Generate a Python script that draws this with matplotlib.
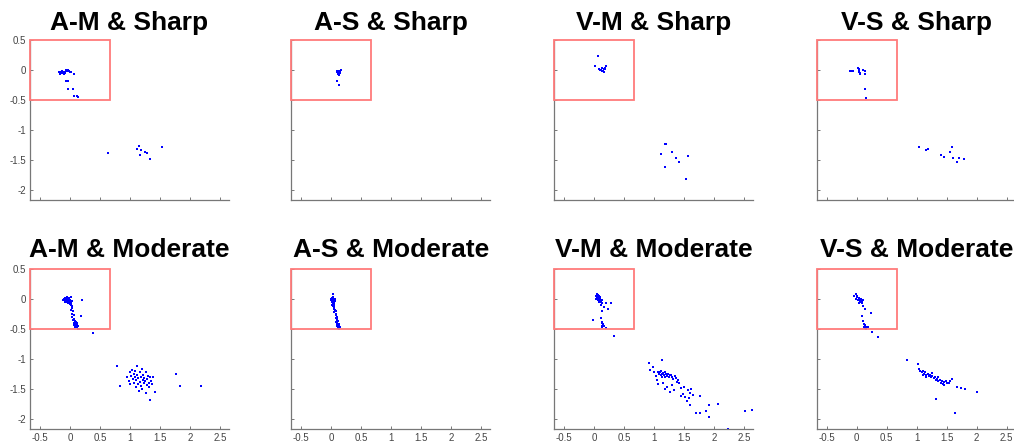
import numpy as np
import matplotlib
matplotlib.use("Agg")
import matplotlib.pyplot as plt
from matplotlib.patches import Rectangle

plt.rcParams['font.family'] = ['Liberation Sans', 'DejaVu Sans']
plt.rcParams['axes.unicode_minus'] = False

# point clouds (x, y), one per panel
am_sharp = np.array([
    (-0.18, -0.04), (-0.17, -0.06), (-0.16, -0.03), (-0.15, -0.05), (-0.14, -0.02),
    (-0.13, -0.04), (-0.12, -0.05), (-0.11, -0.03), (-0.10, -0.06), (-0.09, -0.04),
    (-0.08, -0.05), (-0.07, -0.02), (-0.06, 0.0), (-0.05, -0.01), (-0.04, 0.0),
    (-0.03, -0.01), (-0.02, -0.02), (0.0, -0.04), (0.02, -0.03), (0.06, -0.07),
    (-0.07, -0.18), (-0.03, -0.18), (-0.03, -0.32), (0.05, -0.32), (0.07, -0.44),
    (0.12, -0.43), (0.14, -0.45),
    (0.63, -1.38), (1.11, -1.32), (1.15, -1.26), (1.16, -1.42), (1.19, -1.34),
    (1.25, -1.36), (1.29, -1.39), (1.33, -1.48), (1.54, -1.28)])

as_sharp = np.array([
    (0.09, -0.02), (0.10, -0.04), (0.11, -0.06), (0.12, -0.03), (0.13, -0.01),
    (0.14, -0.05), (0.15, -0.02), (0.16, 0.0), (0.12, -0.08), (0.14, -0.04),
    (0.10, -0.18), (0.12, -0.25)])

vm_sharp = np.array([
    (0.06, 0.24), (0.02, 0.07), (0.08, 0.02), (0.10, 0.0), (0.13, 0.03),
    (0.15, -0.01), (0.18, 0.04), (0.20, 0.06), (0.17, -0.03), (0.14, -0.02),
    (0.16, 0.01), (0.19, 0.02), (0.12, 0.0),
    (1.18, -1.23), (1.20, -1.24), (1.12, -1.40), (1.30, -1.37), (1.37, -1.47),
    (1.41, -1.54), (1.56, -1.43), (1.19, -1.61), (1.54, -1.81)])

vs_sharp = np.array([
    (-0.12, -0.02), (-0.10, -0.02), (-0.09, -0.02), (-0.07, -0.01), (0.02, 0.03),
    (0.04, -0.02), (0.04, -0.04), (0.06, -0.05), (0.10, 0.0), (0.14, -0.01),
    (0.14, -0.07), (0.14, -0.32), (0.16, -0.46), (0.03, 0.01), (0.05, -0.06),
    (1.04, -1.28), (1.15, -1.34), (1.18, -1.31), (1.41, -1.41), (1.46, -1.45),
    (1.56, -1.36), (1.58, -1.28), (1.61, -1.46), (1.67, -1.53), (1.71, -1.46),
    (1.79, -1.48)])

am_moderate = np.array([
    (-0.10, 0.0), (-0.09, -0.02), (-0.08, 0.02), (-0.07, -0.01), (-0.06, 0.01),
    (-0.05, -0.03), (-0.04, 0.0), (-0.03, -0.02), (-0.02, 0.02), (-0.01, -0.04),
    (0.0, -0.01), (0.01, 0.04), (0.02, -0.05), (0.03, -0.03), (-0.08, -0.04),
    (-0.06, -0.05), (-0.04, -0.06), (-0.02, -0.07), (0.0, -0.08), (0.02, -0.10),
    (-0.11, -0.02), (-0.05, 0.03), (-0.03, 0.01), (0.01, -0.06), (0.03, -0.12),
    (0.04, -0.15), (0.02, -0.18), (0.05, -0.20), (0.03, -0.24), (0.06, -0.27),
    (0.04, -0.30), (0.07, -0.33), (0.05, -0.35), (0.08, -0.36), (0.10, -0.38),
    (0.06, -0.39), (0.09, -0.41), (0.11, -0.40), (0.07, -0.43), (0.10, -0.44),
    (0.12, -0.42), (0.08, -0.46), (0.13, -0.45), (0.11, -0.47), (0.20, -0.02),
    (0.19, -0.28), (0.15, -0.50), (0.39, -0.56), (0.14, -0.49),
    (0.79, -1.12), (0.84, -1.44), (0.95, -1.30), (0.98, -1.36), (1.00, -1.22),
    (1.02, -1.28), (1.03, -1.18), (1.05, -1.33), (1.06, -1.25), (1.07, -1.40),
    (1.08, -1.20), (1.09, -1.30), (1.10, -1.35), (1.12, -1.11), (1.12, -1.27),
    (1.13, -1.42), (1.14, -1.32), (1.15, -1.53), (1.16, -1.22), (1.17, -1.38),
    (1.18, -1.29), (1.19, -1.45), (1.20, -1.16), (1.21, -1.34), (1.22, -1.26),
    (1.23, -1.40), (1.24, -1.31), (1.25, -1.37), (1.26, -1.56), (1.27, -1.22),
    (1.28, -1.43), (1.29, -1.33), (1.30, -1.28), (1.31, -1.39), (1.32, -1.46),
    (1.33, -1.30), (1.34, -1.68), (1.35, -1.36), (1.37, -1.42), (1.38, -1.30),
    (1.42, -1.55), (1.77, -1.24), (1.83, -1.45), (2.18, -1.44), (1.00, -1.42),
    (1.10, -1.47), (1.20, -1.50)])

as_moderate = np.array([
    (0.03, 0.08), (0.01, 0.02), (0.02, 0.0), (0.03, -0.01), (0.04, 0.01),
    (0.0, -0.02), (0.02, -0.03), (0.05, -0.02), (0.01, -0.05), (0.03, -0.06),
    (0.04, -0.04), (0.06, -0.03), (0.02, -0.08), (0.04, -0.09), (0.05, -0.07),
    (0.01, -0.10), (0.03, -0.12), (0.05, -0.13), (0.04, -0.16), (0.06, -0.18),
    (0.07, -0.20), (0.05, -0.22), (0.08, -0.24), (0.07, -0.27), (0.09, -0.29),
    (0.08, -0.31), (0.10, -0.33), (0.09, -0.35), (0.11, -0.37), (0.08, -0.38),
    (0.10, -0.40), (0.12, -0.41), (0.09, -0.42), (0.11, -0.43), (0.13, -0.44),
    (0.10, -0.45), (0.12, -0.46), (0.14, -0.47), (0.11, -0.48), (0.13, -0.49),
    (0.06, 0.0), (0.0, 0.01), (0.02, 0.03), (0.05, -0.10)])

vm_moderate = np.array([
    (0.03, 0.06), (0.05, 0.08), (0.06, 0.04), (0.07, 0.07), (0.08, 0.02),
    (0.09, 0.05), (0.10, 0.0), (0.04, 0.01), (0.06, -0.01), (0.08, -0.03),
    (0.10, 0.03), (0.11, -0.02), (0.12, -0.04), (0.13, -0.01), (0.05, 0.03),
    (0.07, 0.0), (0.09, -0.05), (0.14, -0.07), (0.20, -0.06), (0.28, -0.07),
    (0.23, -0.17), (0.14, -0.19), (0.12, -0.10), (0.17, -0.13), (-0.02, -0.34),
    (0.12, -0.32), (0.14, -0.38), (0.13, -0.40), (0.15, -0.42), (0.14, -0.44),
    (0.16, -0.45), (0.13, -0.46), (0.20, -0.48), (0.34, -0.61),
    (1.14, -1.02), (0.92, -1.07), (0.93, -1.18), (0.98, -1.13), (1.00, -1.22),
    (1.03, -1.28), (1.05, -1.35), (1.07, -1.21), (1.08, -1.25), (1.10, -1.22),
    (1.11, -1.27), (1.12, -1.20), (1.13, -1.24), (1.14, -1.29), (1.15, -1.23),
    (1.16, -1.26), (1.18, -1.22), (1.19, -1.30), (1.20, -1.25), (1.22, -1.28),
    (1.23, -1.24), (1.25, -1.29), (1.27, -1.27), (1.29, -1.26), (1.30, -1.30),
    (1.32, -1.33), (1.35, -1.28), (1.37, -1.32), (1.38, -1.38), (1.40, -1.35),
    (1.06, -1.42), (1.15, -1.40), (1.18, -1.50), (1.22, -1.46), (1.26, -1.55),
    (1.30, -1.43), (1.33, -1.52), (1.42, -1.40), (1.45, -1.48), (1.48, -1.58),
    (1.50, -1.47), (1.52, -1.63), (1.55, -1.70), (1.57, -1.52), (1.58, -1.65),
    (1.60, -1.57), (1.60, -1.77), (1.62, -1.49), (1.65, -1.60), (1.77, -1.61),
    (1.77, -1.89), (1.86, -1.87), (1.92, -1.96), (1.92, -1.77), (2.07, -1.74),
    (2.24, -2.16), (2.52, -1.86), (2.63, -1.84), (1.70, -1.90), (1.45, -1.62)])

vs_moderate = np.array([
    (-0.04, 0.05), (-0.02, 0.08), (0.0, 0.03), (0.01, 0.06), (0.03, 0.01),
    (-0.01, 0.0), (0.02, -0.02), (0.04, 0.02), (0.05, -0.01), (0.07, 0.0),
    (0.08, -0.03), (0.06, -0.05), (0.10, -0.02), (0.03, -0.06), (0.09, -0.07),
    (0.11, -0.12), (0.14, -0.17), (0.23, -0.23), (0.08, -0.28), (0.10, -0.36),
    (0.12, -0.41), (0.13, -0.43), (0.14, -0.45), (0.12, -0.46), (0.15, -0.47),
    (0.13, -0.48), (0.16, -0.49), (0.18, -0.47), (0.25, -0.54), (0.35, -0.63),
    (0.83, -1.02), (1.02, -1.08), (1.04, -1.16), (1.06, -1.19), (1.08, -1.22),
    (1.10, -1.20), (1.12, -1.24), (1.14, -1.22), (1.16, -1.26), (1.18, -1.24),
    (1.20, -1.28), (1.22, -1.26), (1.24, -1.30), (1.26, -1.28), (1.28, -1.32),
    (1.30, -1.30), (1.32, -1.34), (1.34, -1.33), (1.36, -1.37), (1.38, -1.35),
    (1.40, -1.39), (1.42, -1.37), (1.44, -1.41), (1.46, -1.38), (1.48, -1.36),
    (1.50, -1.40), (1.53, -1.39), (1.56, -1.37), (1.58, -1.33), (1.10, -1.26),
    (1.15, -1.29), (1.25, -1.23), (1.35, -1.30), (1.45, -1.43), (1.67, -1.46),
    (1.73, -1.48), (1.81, -1.49), (2.01, -1.54), (1.32, -1.66), (1.63, -1.89)])

titles = ["A-M & Sharp", "A-S & Sharp", "V-M & Sharp", "V-S & Sharp",
          "A-M & Moderate", "A-S & Moderate", "V-M & Moderate", "V-S & Moderate"]
panels = [am_sharp, as_sharp, vm_sharp, vs_sharp,
          am_moderate, as_moderate, vm_moderate, vs_moderate]

x_ticks = [-0.5, 0, 0.5, 1, 1.5, 2, 2.5]
x_labels = ["-0.5", "0", "0.5", "1", "1.5", "2", "2.5"]
y_ticks = [-2, -1.5, -1, -0.5, 0, 0.5]
y_labels = ["-2", "-1.5", "-1", "-0.5", "0", "0.5"]

W, H = 1014, 446
fig = plt.figure(figsize=(W / 100, H / 100), dpi=100)

lefts = [30, 291.3, 554, 816.7]
tops = [40, 269.3]
aw, ah = 199, 160

for i, (pts, title) in enumerate(zip(panels, titles)):
    row, col = divmod(i, 4)
    ax = fig.add_axes([lefts[col] / W, 1 - (tops[row] + ah) / H, aw / W, ah / H])
    ax.plot(pts[:, 0], pts[:, 1], 's', color='blue', markersize=1.6,
            markeredgewidth=0, clip_on=False)
    ax.add_patch(Rectangle((-0.667, -0.5), 1.334, 1.0, fill=False,
                           edgecolor='#ff7b7b', linewidth=1.3, clip_on=False, zorder=3))
    ax.set_xlim(-0.667, 2.65)
    ax.set_ylim(-2.167, 0.5)
    for s in ['top', 'right']:
        ax.spines[s].set_visible(False)
    for s in ['left', 'bottom']:
        ax.spines[s].set_color('#777777')
        ax.spines[s].set_linewidth(0.9)
    ax.set_xticks(x_ticks)
    ax.set_yticks(y_ticks)
    ax.tick_params(direction='in', length=2, width=0.7, color='#777777',
                   labelsize=7, labelcolor='#444444', pad=3)
    if row == 1:
        ax.set_xticklabels(x_labels)
    else:
        ax.set_xticklabels([])
    if col == 0:
        ax.set_yticklabels(y_labels)
    else:
        ax.set_yticklabels([])
    ax.set_title(title, fontsize=19, fontweight='bold', pad=7 if row == 0 else 9)

fig.savefig("out.png", dpi=100)
